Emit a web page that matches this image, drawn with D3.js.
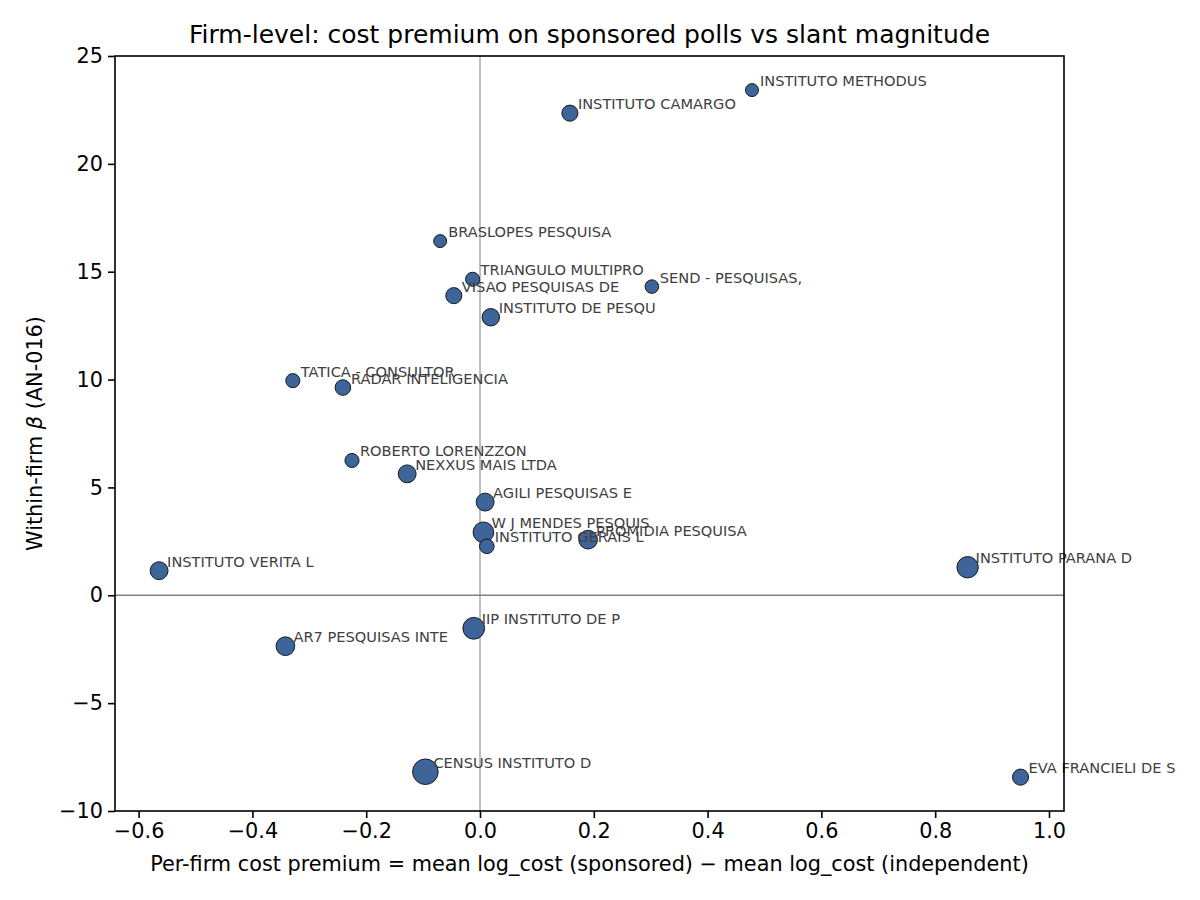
<!DOCTYPE html>
<html>
<head>
<meta charset="utf-8">
<script src="https://cdn.jsdelivr.net/npm/d3@7"></script>
<style>
  body { margin: 0; background: #fff; }
  text { font-family: "DejaVu Sans", sans-serif; }
</style>
</head>
<body>
<div id="chart"></div>
<script>
// firm labels (truncated names as in the source)
const firms = [
  "INSTITUTO METHODUS", "INSTITUTO CAMARGO", "BRASLOPES PESQUISA", "TRIANGULO MULTIPRO",
  "VISAO PESQUISAS DE", "INSTITUTO DE PESQU", "SEND - PESQUISAS,", "TATICA - CONSULTOR",
  "RADAR INTELIGENCIA", "ROBERTO LORENZZON", "NEXXUS MAIS LTDA", "AGILI PESQUISAS E",
  "W J MENDES PESQUIS", "INSTITUTO GERAIS L", "PROMIDIA PESQUISA", "INSTITUTO VERITA L",
  "INSTITUTO PARANA D", "IIP INSTITUTO DE P", "AR7 PESQUISAS INTE", "CENSUS INSTITUTO D",
  "EVA FRANCIELI DE S"
];
// per-firm cost premium
const premium = [
  0.478, 0.158, -0.070, -0.013,
  -0.046, 0.019, 0.302, -0.329,
  -0.241, -0.225, -0.128, 0.009,
  0.006, 0.012, 0.190, -0.564,
  0.857, -0.011, -0.342, -0.096,
  0.950
];
// within-firm beta
const beta = [
  23.42, 22.35, 16.42, 14.65,
  13.89, 12.89, 14.31, 9.95,
  9.63, 6.25, 5.63, 4.32,
  2.92, 2.27, 2.58, 1.14,
  1.30, -1.53, -2.36, -8.18,
  -8.43
];
// number of polls (marker area)
const nPolls = [
  11, 17, 11, 13,
  17, 20, 12, 13,
  16, 13, 21, 21,
  28, 14, 23, 21,
  30, 31, 23, 43,
  17
];
const xTicks = [-0.6, -0.4, -0.2, 0.0, 0.2, 0.4, 0.6, 0.8, 1.0];
const yTicks = [-10, -5, 0, 5, 10, 15, 20, 25];

const width = 1200, height = 900;
const margin = { top: 56, right: 136, bottom: 89, left: 115 };
const innerW = width - margin.left - margin.right;
const innerH = height - margin.top - margin.bottom;

const data = firms.map((f, i) => ({ name: f, x: premium[i], y: beta[i], n: nPolls[i] }));

const svg = d3.select("#chart").append("svg")
  .attr("width", width)
  .attr("height", height);

const bounds = svg.append("g")
  .attr("transform", `translate(${margin.left},${margin.top})`);

// scales
const xScale = d3.scaleLinear().domain([-0.6415, 1.0264]).range([0, innerW]);
const yScale = d3.scaleLinear().domain([-10, 25]).range([innerH, 0]);
const rScale = d3.scaleSqrt().domain([0, 43]).range([0, 12.8]);

// reference lines at zero
bounds.append("line")
  .attr("x1", 0).attr("x2", innerW)
  .attr("y1", yScale(0)).attr("y2", yScale(0))
  .attr("stroke", "#808080").attr("stroke-width", 1.6);
bounds.append("line")
  .attr("x1", xScale(0)).attr("x2", xScale(0))
  .attr("y1", 0).attr("y2", innerH)
  .attr("stroke", "#808080").attr("stroke-width", 1);

// points
bounds.selectAll("circle.pt")
  .data(data)
  .enter()
  .append("circle")
    .attr("class", "pt")
    .attr("cx", d => xScale(d.x))
    .attr("cy", d => yScale(d.y))
    .attr("r", d => rScale(d.n))
    .attr("fill", "#3d6599")
    .attr("stroke", "#1a1a1a")
    .attr("stroke-width", 1);

// labels
bounds.selectAll("text.lbl")
  .data(data)
  .enter()
  .append("text")
    .attr("class", "lbl")
    .attr("x", d => xScale(d.x) + 8)
    .attr("y", d => yScale(d.y) - 4)
    .attr("font-size", "14.6px")
    .attr("fill", "#404040")
    .text(d => d.name);

// axes
const xAxis = bounds.append("g")
  .attr("transform", `translate(0,${innerH})`)
  .call(d3.axisBottom(xScale).tickValues(xTicks).tickFormat(d3.format(".1f")).tickSizeOuter(0).tickSize(7).tickPadding(5));
const yAxis = bounds.append("g")
  .call(d3.axisLeft(yScale).tickValues(yTicks).tickFormat(d3.format("d")).tickSizeOuter(0).tickSize(7).tickPadding(5));

[xAxis, yAxis].forEach(ax => {
  ax.select(".domain").remove();
  ax.selectAll(".tick line").attr("stroke", "#000").attr("stroke-width", 1.6);
  ax.selectAll(".tick text")
    .attr("font-size", "20.8px")
    .attr("font-family", "DejaVu Sans, sans-serif")
    .attr("fill", "#000")
    .text(function () { return d3.select(this).text().replace("-", "\u2212"); });
});

// frame
bounds.append("rect")
  .attr("width", innerW).attr("height", innerH)
  .attr("fill", "none").attr("stroke", "#000").attr("stroke-width", 1.6);

// title and axis labels
svg.append("text")
  .attr("x", margin.left + innerW / 2).attr("y", 43)
  .attr("text-anchor", "middle")
  .attr("font-size", "25px")
  .text("Firm-level: cost premium on sponsored polls vs slant magnitude");

svg.append("text")
  .attr("x", margin.left + innerW / 2).attr("y", 871)
  .attr("text-anchor", "middle")
  .attr("font-size", "20.8px")
  .text("Per-firm cost premium = mean log_cost (sponsored) \u2212 mean log_cost (independent)");

const yLab = svg.append("text")
  .attr("transform", `translate(42,${margin.top + innerH / 2}) rotate(-90)`)
  .attr("text-anchor", "middle")
  .attr("font-size", "20.8px");
yLab.append("tspan").text("Within-firm ");
yLab.append("tspan").attr("font-style", "italic").text("\u03b2");
yLab.append("tspan").text(" (AN-016)");
</script>
</body>
</html>
